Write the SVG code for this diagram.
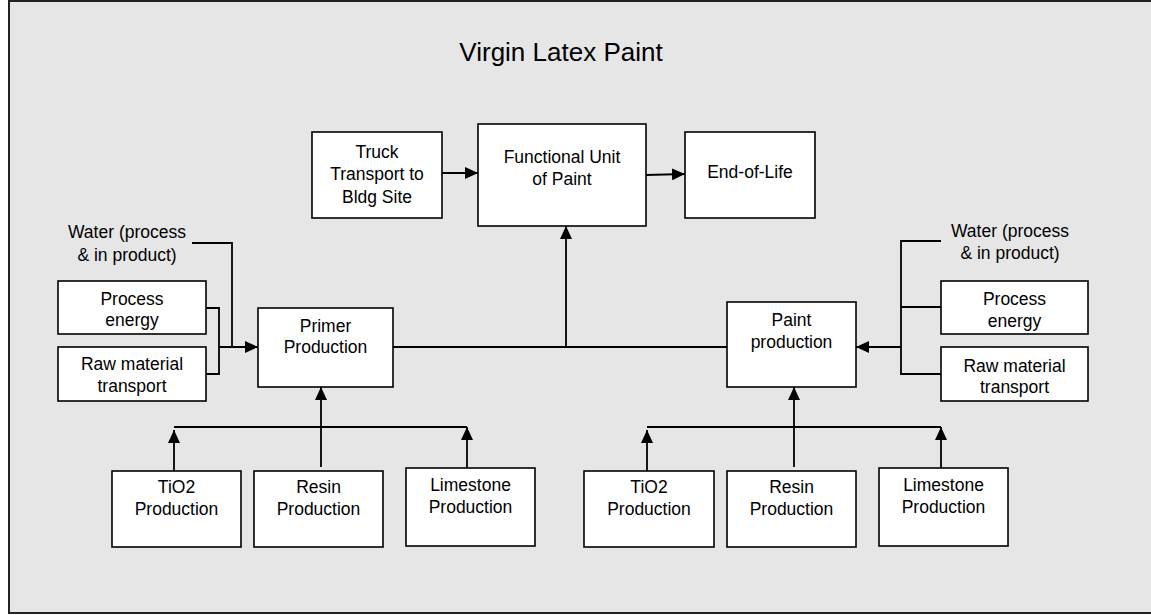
<svg xmlns="http://www.w3.org/2000/svg" width="1151" height="615" viewBox="0 0 1151 615">
<style>
.box{fill:#ffffff;stroke:#000;stroke-width:1.6}
.lbl{font-family:"Liberation Sans",Arial,sans-serif;font-size:17.5px;fill:#000;text-anchor:middle}
.ttl{font-family:"Liberation Sans",Arial,sans-serif;font-size:26px;fill:#000;text-anchor:middle}
.c{fill:none;stroke:#000;stroke-width:1.8}
</style>
<defs>
<marker id="ah" markerUnits="userSpaceOnUse" markerWidth="13" markerHeight="12" refX="13" refY="6" orient="auto">
<path d="M0,0 L13,6 L0,12 z" fill="#000"/>
</marker>
</defs>
<rect x="9" y="1" width="1146" height="612" fill="#e6e6e6" stroke="#222" stroke-width="2"/>
<text class="ttl" x="561" y="61">Virgin Latex Paint</text>

<g id="connectors">
<line class="c" x1="442" y1="173" x2="478" y2="173" marker-end="url(#ah)"/>
<line class="c" x1="646" y1="175" x2="685" y2="174" marker-end="url(#ah)"/>
<line class="c" x1="393" y1="347" x2="727" y2="347"/>
<line class="c" x1="566" y1="347" x2="566" y2="226" marker-end="url(#ah)"/>
<polyline class="c" points="192,243 232,243 232,347"/>
<polyline class="c" points="206,308 219,308 219,374 206,374"/>
<line class="c" x1="219" y1="347" x2="258" y2="347" marker-end="url(#ah)"/>
<polyline class="c" points="941,241 901,241 901,374 941,374"/>
<line class="c" x1="901" y1="307" x2="941" y2="307"/>
<line class="c" x1="901" y1="347" x2="856" y2="347" marker-end="url(#ah)"/>
<line class="c" x1="321" y1="467" x2="321" y2="387" marker-end="url(#ah)"/>
<line class="c" x1="174" y1="427" x2="467" y2="427"/>
<line class="c" x1="174" y1="471" x2="174" y2="430" marker-end="url(#ah)"/>
<line class="c" x1="467" y1="468" x2="467" y2="427" marker-end="url(#ah)"/>
<line class="c" x1="794" y1="467" x2="794" y2="387" marker-end="url(#ah)"/>
<line class="c" x1="647" y1="427" x2="941" y2="427"/>
<line class="c" x1="647" y1="471" x2="647" y2="430" marker-end="url(#ah)"/>
<line class="c" x1="941" y1="468" x2="941" y2="427" marker-end="url(#ah)"/>
</g>

<g id="truck"><rect class="box" x="312" y="132" width="130" height="86"/>
<text class="lbl" x="377" y="158">Truck</text><text class="lbl" x="377" y="180">Transport to</text><text class="lbl" x="377" y="203">Bldg Site</text></g>
<g id="functional-unit"><rect class="box" x="478" y="124" width="168" height="102"/>
<text class="lbl" x="562" y="163">Functional Unit</text><text class="lbl" x="562" y="185">of Paint</text></g>
<g id="end-of-life"><rect class="box" x="685" y="132" width="130" height="86"/>
<text class="lbl" x="750" y="178">End-of-Life</text></g>

<g id="water-left"><text class="lbl" x="127" y="238">Water (process</text><text class="lbl" x="127" y="261">&amp; in product)</text></g>
<g id="energy-left"><rect class="box" x="58" y="281" width="148" height="53"/>
<text class="lbl" x="132" y="305">Process</text><text class="lbl" x="132" y="326">energy</text></g>
<g id="transport-left"><rect class="box" x="58" y="347" width="148" height="54"/>
<text class="lbl" x="132" y="370">Raw material</text><text class="lbl" x="132" y="392">transport</text></g>
<g id="primer"><rect class="box" x="258" y="308" width="135" height="79"/>
<text class="lbl" x="325.5" y="332">Primer</text><text class="lbl" x="325.5" y="353">Production</text></g>

<g id="paint"><rect class="box" x="727" y="302" width="129" height="85"/>
<text class="lbl" x="791.5" y="326">Paint</text><text class="lbl" x="791.5" y="348">production</text></g>
<g id="water-right"><text class="lbl" x="1010" y="237">Water (process</text><text class="lbl" x="1010" y="259">&amp; in product)</text></g>
<g id="energy-right"><rect class="box" x="941" y="281" width="147" height="53"/>
<text class="lbl" x="1014.5" y="305">Process</text><text class="lbl" x="1014.5" y="327">energy</text></g>
<g id="transport-right"><rect class="box" x="941" y="347" width="147" height="54"/>
<text class="lbl" x="1014.5" y="372">Raw material</text><text class="lbl" x="1014.5" y="393">transport</text></g>

<g id="tio2-left"><rect class="box" x="112" y="471" width="129" height="76"/>
<text class="lbl" x="176.5" y="493">TiO2</text><text class="lbl" x="176.5" y="515">Production</text></g>
<g id="resin-left"><rect class="box" x="254" y="471" width="129" height="76"/>
<text class="lbl" x="318.5" y="493">Resin</text><text class="lbl" x="318.5" y="515">Production</text></g>
<g id="limestone-left"><rect class="box" x="406" y="468" width="129" height="78"/>
<text class="lbl" x="470.5" y="491">Limestone</text><text class="lbl" x="470.5" y="513">Production</text></g>

<g id="tio2-right"><rect class="box" x="584" y="471" width="130" height="76"/>
<text class="lbl" x="649" y="493">TiO2</text><text class="lbl" x="649" y="515">Production</text></g>
<g id="resin-right"><rect class="box" x="727" y="471" width="129" height="76"/>
<text class="lbl" x="791.5" y="493">Resin</text><text class="lbl" x="791.5" y="515">Production</text></g>
<g id="limestone-right"><rect class="box" x="879" y="468" width="129" height="78"/>
<text class="lbl" x="943.5" y="491">Limestone</text><text class="lbl" x="943.5" y="513">Production</text></g>
</svg>
